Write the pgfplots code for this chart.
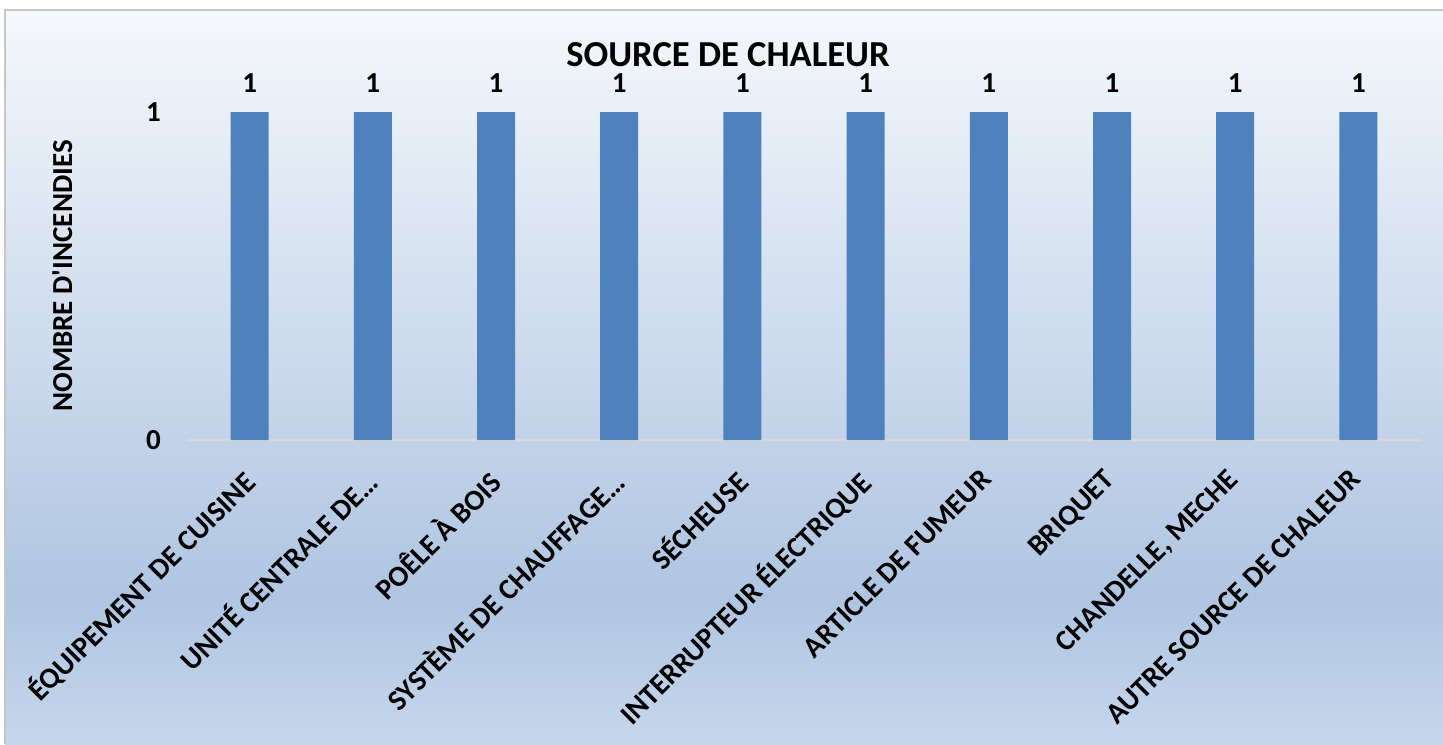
\documentclass[border=0pt]{standalone}
\usepackage{fontspec}
\setmainfont{Carlito}[Ligatures=TeXOff]
\usepackage{pgfplots}
\pgfplotsset{compat=1.18}

\definecolor{barblue}{HTML}{4F81BD}
\definecolor{bgtop}{HTML}{F5F8FC}
\definecolor{bgdark}{HTML}{AFC5E1}
\definecolor{bgbottom}{HTML}{C6D7EC}
\definecolor{axisgray}{HTML}{D9D9D9}

\pgfdeclareverticalshading{chartbg}{100bp}{%
  color(0bp)=(bgbottom); color(25bp)=(bgbottom); color(35bp)=(bgdark);
  color(75bp)=(bgtop); color(100bp)=(bgtop)}

\begin{document}
\begin{tikzpicture}
% page 1443x744 px -> 721.5pt x 372pt
\useasboundingbox (0,0) rectangle (721.5pt,-372pt);
\fill[white] (0,0) rectangle (721.5pt,-372pt);
\shade[shading=chartbg] (2.5pt,-5pt) rectangle (721.5pt,-372pt);
\draw[gray!45, line width=0.8pt] (2.5pt,-372pt) -- (2.5pt,-5pt) -- (721.5pt,-5pt);

\node[font=\bfseries\fontsize{18.3}{18.3}\selectfont] at (364pt,-27.5pt) {SOURCE DE CHALEUR};

\begin{axis}[
    at={(94pt,-220pt)}, anchor=south west,
    scale only axis,
    width=616pt, height=164pt,
    ybar, bar width=19pt,
    xmin=-0.5, xmax=9.5,
    ymin=0, ymax=1,
    axis line style={draw=none},
    axis x line*=bottom,
    axis y line*=left,
    ytick={0,1},
    xtick=data,
    major tick length=0pt,
    xticklabels={ÉQUIPEMENT DE CUISINE, UNITÉ CENTRALE DE…, POÊLE À BOIS,
      SYSTÈME DE CHAUFFAGE…, SÉCHEUSE, INTERRUPTEUR ÉLECTRIQUE,
      ARTICLE DE FUMEUR, BRIQUET, {CHANDELLE, MECHE}, AUTRE SOURCE DE CHALEUR},
    x tick label style={xshift=-4.8pt, yshift=-8.8pt, rotate=45, anchor=north east,
      font=\bfseries\fontsize{14.6}{14.6}\selectfont},
    y tick label style={xshift=-10pt, font=\bfseries\fontsize{14.5}{14.5}\selectfont},
    /pgf/number format/assume math mode=true,
    ylabel={NOMBRE D'INCENDIES},
    ylabel style={at={(axis description cs:-0.102,0.5)}, anchor=center,
      font=\bfseries\fontsize{14.5}{14.5}\selectfont},
    nodes near coords,
    nodes near coords style={font=\bfseries\fontsize{14.5}{14.5}\selectfont, yshift=6pt},
    clip=false,
]
\draw[axisgray, line width=1pt] (rel axis cs:0,0) -- (rel axis cs:1,0);
\addplot[fill=barblue, draw=none] coordinates {
  (0,1) (1,1) (2,1) (3,1) (4,1) (5,1) (6,1) (7,1) (8,1) (9,1)
};
\end{axis}
\end{tikzpicture}
\end{document}
